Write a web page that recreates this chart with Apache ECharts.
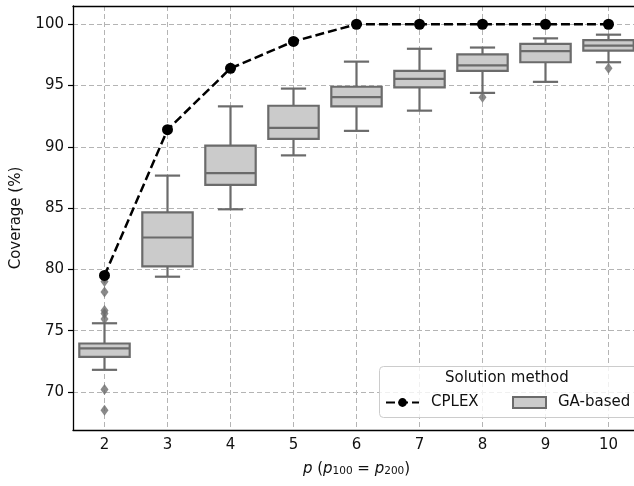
<!DOCTYPE html>
<html>
<head>
<meta charset="utf-8">
<script src="https://cdn.jsdelivr.net/npm/echarts@6/dist/echarts.min.js"></script>
<style>
  html, body { margin: 0; padding: 0; background: #fff; }
  #chart { width: 634px; height: 486px; }
</style>
</head>
<body>
<div id="chart"></div>
<script>
  // p values on the x axis
  var categories = ['2', '3', '4', '5', '6', '7', '8', '9', '10'];
  // CPLEX coverage (%)
  var cplexValues = [79.5, 91.4, 96.4, 98.6, 100, 100, 100, 100, 100];
  // GA-based boxes: [low whisker, q1, median, q3, high whisker]
  var gaBoxes = [
    [71.8, 72.85, 73.55, 73.95, 75.6],
    [79.4, 80.25, 82.6, 84.65, 87.65],
    [84.9, 86.9, 87.85, 90.1, 93.3],
    [89.3, 90.65, 91.55, 93.35, 94.75],
    [91.3, 93.3, 94.05, 94.9, 96.95],
    [92.95, 94.85, 95.55, 96.2, 98.0],
    [94.4, 96.2, 96.65, 97.55, 98.1],
    [95.3, 96.9, 97.8, 98.4, 98.85],
    [96.9, 97.85, 98.25, 98.7, 99.15]
  ];
  // GA-based outliers: [p, coverage]
  var gaOutliers = [
    ['2', 79.3], ['2', 79.0], ['2', 78.15], ['2', 76.65], ['2', 76.4], ['2', 75.95],
    ['2', 70.2], ['2', 68.5],
    ['8', 94.05], ['10', 96.4]
  ];
  var yTicks = [70, 75, 80, 85, 90, 95, 100];

  var edge = '#6b6b6b';
  var boxFill = '#cbcbcb';
  var font = 'DejaVu Sans';

  var boxData = gaBoxes.map(function (b, i) {
    return [i].concat(b);
  });

  var legendText = { fontFamily: font, fontSize: 15, color: '#111', padding: [0, 0, 0, 7] };

  var chart = echarts.init(document.getElementById('chart'));
  var option = {
    animation: false,
    backgroundColor: '#ffffff',
    grid: {
      left: 73, top: 6, width: 567, height: 424,
      outerBoundsMode: 'none',
      containLabel: false
    },
    xAxis: [
      {
        type: 'category',
        data: categories,
        boundaryGap: true,
        name: '{i|p} ({i|p}{s|100} = {i|p}{s|200})',
        nameLocation: 'middle',
        nameGap: 31,
        nameTextStyle: {
          fontFamily: font, fontSize: 15, color: '#111',
          rich: {
            i: { fontFamily: font, fontSize: 15, fontStyle: 'italic', color: '#111' },
            s: { fontFamily: font, fontSize: 10.5, color: '#111', verticalAlign: 'bottom', padding: [5, 0, 0, 0] }
          }
        },
        axisLine: { lineStyle: { color: '#000', width: 1.3 } },
        axisTick: { alignWithLabel: true, length: 5, lineStyle: { color: '#000', width: 1.2 } },
        axisLabel: { fontFamily: font, fontSize: 15, color: '#111', margin: 8 },
        splitLine: { show: true, alignWithLabel: true, lineStyle: { color: '#b4b4b4', type: [5, 3], width: 1 } }
      },
      {
        // top spine only
        type: 'category',
        position: 'top',
        data: categories,
        axisLine: { show: true, lineStyle: { color: '#000', width: 1.3 } },
        axisTick: { show: false },
        axisLabel: { show: false },
        splitLine: { show: false }
      }
    ],
    yAxis: {
      type: 'value',
      min: 66.89,
      max: 101.49,
      splitNumber: 7,
      name: 'Coverage (%)',
      nameLocation: 'middle',
      nameGap: 49,
      nameTextStyle: { fontFamily: font, fontSize: 15, color: '#111' },
      axisLine: { show: true, lineStyle: { color: '#000', width: 1.3 } },
      axisTick: { show: true, length: 5, customValues: yTicks, lineStyle: { color: '#000', width: 1.2 } },
      axisLabel: { fontFamily: font, fontSize: 15, color: '#111', margin: 9, customValues: yTicks },
      splitLine: { show: true, lineStyle: { color: '#b4b4b4', type: [5, 3], width: 1 } }
    },
    legend: [
      {
        left: 385, top: 395, padding: 0,
        itemWidth: 33, itemHeight: 11,
        textStyle: legendText,
        data: [{ name: 'CPLEX' }]
      },
      {
        left: 512, top: 395, padding: 0,
        itemWidth: 33, itemHeight: 11,
        textStyle: legendText,
        data: [{ name: 'GA-based', icon: 'rect', itemStyle: { color: boxFill, borderColor: edge, borderWidth: 2 } }]
      }
    ],
    graphic: [
      {
        type: 'rect', left: 379, top: 366, z: 3,
        shape: { width: 262, height: 51, r: 4 },
        style: { fill: 'rgba(255,255,255,0.8)', stroke: '#cccccc', lineWidth: 1 }
      },
      {
        type: 'text', left: 445, top: 371, z: 4,
        style: { text: 'Solution method', fontFamily: font, fontSize: 15, fill: '#111' }
      }
    ],
    series: [
      {
        name: 'outliers',
        type: 'scatter',
        data: gaOutliers,
        symbol: 'diamond',
        symbolSize: [8, 11],
        itemStyle: { color: edge },
        z: 2
      },
      {
        name: 'GA-based',
        type: 'custom',
        data: boxData,
        encode: { x: 0, y: [1, 2, 3, 4, 5] },
        itemStyle: { color: boxFill },
        z: 2,
        renderItem: function (params, api) {
          var x = api.value(0);
          var lo = api.coord([x, api.value(1)]);
          var q1 = api.coord([x, api.value(2)]);
          var med = api.coord([x, api.value(3)]);
          var q3 = api.coord([x, api.value(4)]);
          var hi = api.coord([x, api.value(5)]);
          var bw = api.size([1, 0])[0] * 0.8;
          var cx = lo[0];
          var ls = { stroke: edge, lineWidth: 2.2, fill: null };
          return {
            type: 'group',
            children: [
              { type: 'line', shape: { x1: cx, y1: q1[1], x2: cx, y2: lo[1] }, style: ls },
              { type: 'line', shape: { x1: cx, y1: q3[1], x2: cx, y2: hi[1] }, style: ls },
              { type: 'line', shape: { x1: cx - bw / 4, y1: lo[1], x2: cx + bw / 4, y2: lo[1] }, style: ls },
              { type: 'line', shape: { x1: cx - bw / 4, y1: hi[1], x2: cx + bw / 4, y2: hi[1] }, style: ls },
              {
                type: 'rect',
                shape: { x: cx - bw / 2, y: q3[1], width: bw, height: q1[1] - q3[1] },
                style: { fill: boxFill, stroke: edge, lineWidth: 2.2 }
              },
              { type: 'line', shape: { x1: cx - bw / 2, y1: med[1], x2: cx + bw / 2, y2: med[1] }, style: ls }
            ]
          };
        }
      },
      {
        name: 'CPLEX',
        type: 'line',
        data: cplexValues,
        symbol: 'circle',
        symbolSize: 11,
        lineStyle: { color: '#000', width: 2.5, type: [9, 4] },
        itemStyle: { color: '#000' },
        z: 2
      }
    ]
  };
  chart.setOption(option);
</script>
</body>
</html>
